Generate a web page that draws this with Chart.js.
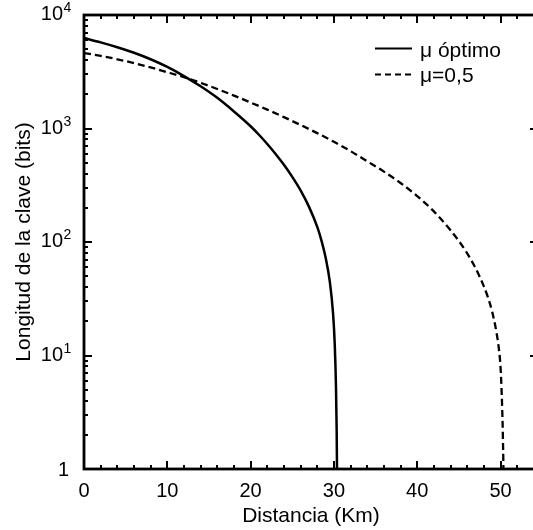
<!DOCTYPE html>
<html>
<head>
<meta charset="utf-8">
<script src="https://cdn.jsdelivr.net/npm/chart.js@4/dist/chart.umd.min.js"></script>
<style>
  html, body { margin: 0; padding: 0; background: #fff; overflow: hidden; }
  #wrap { width: 533px; height: 530px; overflow: hidden; position: relative; }
  canvas { display: block; }
</style>
</head>
<body>
<div id="wrap"><canvas id="c" width="560" height="530"></canvas></div>
<script>
// Key length vs. distance, optimal mu
const distanciaOpt = [0, 2, 4, 6, 8, 10, 12, 14, 16, 18, 20, 21, 22, 23, 24, 25, 26, 27, 28, 28.5, 29, 29.5, 29.9, 30.1, 30.25, 30.33, 30.37];
const longitudOpt  = [6266, 5741, 5200, 4645, 4074, 3483, 2897, 2355, 1862, 1413, 1047, 881, 731, 597, 479, 375, 285, 205, 136, 103.5, 73.3, 45.2, 23.4, 12.6, 5.25, 2.24, 1];

// Key length vs. distance, mu = 0.5
const distancia05 = [0, 2, 4, 6, 8, 10, 12, 14, 16, 18, 20, 22, 24, 26, 28, 30, 32, 34, 36, 38, 40, 42, 44, 45, 46, 47, 48, 48.5, 49, 49.5, 49.8, 50, 50.15, 50.25, 50.32, 50.35];
const longitud05  = [4624, 4365, 4074, 3767, 3451, 3133, 2831, 2523, 2228, 1950, 1694, 1466, 1259, 1074, 910, 764, 632, 514, 417, 331, 254, 186, 127, 102, 79.4, 58.9, 40.7, 32.4, 24.3, 16.2, 11.5, 7.94, 4.47, 2.51, 1.41, 1];

const seriesNames = ['\u03bc \u00f3ptimo', '\u03bc=0,5'];
const xTickValues = [0, 10, 20, 30, 40, 50];
const yDecades = [1, 10, 100, 1000, 10000];
const yExponents = ['', '1', '2', '3', '4'];
const xTitle = 'Distancia (Km)';
const yTitle = 'Longitud de la clave (bits)';

const FONT = '"Liberation Sans", Arial, Helvetica, sans-serif';

function pts(xs, ys) { return xs.map((x, i) => ({ x: x, y: ys[i] })); }

// Boxed axes with inward ticks, superscript decade labels, titles and legend
const framePlugin = {
  id: 'frame',
  afterDraw(chart) {
    const ctx = chart.ctx;
    const xs = chart.scales.x, ys = chart.scales.y;
    const a = chart.chartArea;
    ctx.save();
    ctx.strokeStyle = '#000';
    ctx.fillStyle = '#000';

    ctx.lineWidth = 2.8;
    ctx.strokeRect(a.left, a.top, a.right - a.left, a.bottom - a.top);

    ctx.lineWidth = 2;
    for (let v = 0; v <= xs.max + 1e-9; v += 2) {
      const px = Math.round(xs.getPixelForValue(v));
      const major = Math.abs(v % 10) < 1e-9;
      const len = major ? 8 : 4;
      ctx.beginPath();
      ctx.moveTo(px, a.bottom); ctx.lineTo(px, a.bottom - len);
      ctx.moveTo(px, a.top); ctx.lineTo(px, a.top + len);
      ctx.stroke();
    }
    for (let d = 0; d < yDecades.length; d++) {
      const base = yDecades[d];
      for (let m = 1; m <= 9; m++) {
        const v = base * m;
        if (v > ys.max + 1e-9) break;
        const py = Math.round(ys.getPixelForValue(v));
        const len = m === 1 ? 8 : 4;
        ctx.beginPath();
        ctx.moveTo(a.left, py); ctx.lineTo(a.left + len, py);
        ctx.moveTo(a.right, py); ctx.lineTo(a.right - len, py);
        ctx.stroke();
      }
    }

    ctx.font = '20px ' + FONT;
    ctx.textAlign = 'center';
    ctx.textBaseline = 'alphabetic';
    xTickValues.forEach(v => {
      ctx.fillText(String(v), xs.getPixelForValue(v), a.bottom + 28);
    });

    yDecades.forEach((v, i) => {
      const py = ys.getPixelForValue(v);
      if (yExponents[i] === '') {
        ctx.font = '20px ' + FONT;
        ctx.textAlign = 'right';
        ctx.fillText('1', a.left - 15, py + 7);
      } else {
        ctx.font = '14px ' + FONT;
        ctx.textAlign = 'left';
        const right = a.left - 21;
        ctx.fillText(yExponents[i], right + 0.5, py - 3);
        ctx.font = '20px ' + FONT;
        ctx.textAlign = 'right';
        ctx.fillText('10', right, py + 5);
      }
    });

    ctx.font = '21px ' + FONT;
    ctx.textAlign = 'center';
    ctx.fillText(xTitle, (a.left + a.right) / 2, 522);
    ctx.save();
    ctx.translate(30, (a.top + a.bottom) / 2);
    ctx.rotate(-Math.PI / 2);
    ctx.fillText(yTitle, 0, 0);
    ctx.restore();

    ctx.lineWidth = 2;
    ctx.beginPath();
    ctx.moveTo(375, 48.5); ctx.lineTo(412, 48.5);
    ctx.stroke();
    ctx.setLineDash([6, 4]);
    ctx.beginPath();
    ctx.moveTo(375, 74.5); ctx.lineTo(412, 74.5);
    ctx.stroke();
    ctx.setLineDash([]);
    ctx.font = '21px ' + FONT;
    ctx.textAlign = 'left';
    ctx.fillText(seriesNames[0], 420, 56.5);
    ctx.fillText(seriesNames[1], 420, 82);
    ctx.restore();
  }
};

new Chart(document.getElementById('c'), {
  type: 'line',
  data: {
    datasets: [
      {
        label: seriesNames[0],
        data: pts(distanciaOpt, longitudOpt),
        borderColor: '#000',
        borderWidth: 2.5,
        pointRadius: 0,
        fill: false,
        cubicInterpolationMode: 'monotone'
      },
      {
        label: seriesNames[1],
        data: pts(distancia05, longitud05),
        borderColor: '#000',
        borderWidth: 2.3,
        borderDash: [7, 4],
        pointRadius: 0,
        fill: false,
        cubicInterpolationMode: 'monotone'
      }
    ]
  },
  options: {
    responsive: false,
    animation: false,
    devicePixelRatio: 1,
    layout: { padding: { left: 84, top: 15, right: 22, bottom: 61 } },
    plugins: { legend: { display: false }, tooltip: { enabled: false } },
    scales: {
      x: { type: 'linear', min: 0, max: 54.5, display: false },
      y: { type: 'logarithmic', min: 1, max: 10000, display: false }
    }
  },
  plugins: [framePlugin]
});
</script>
</body>
</html>
